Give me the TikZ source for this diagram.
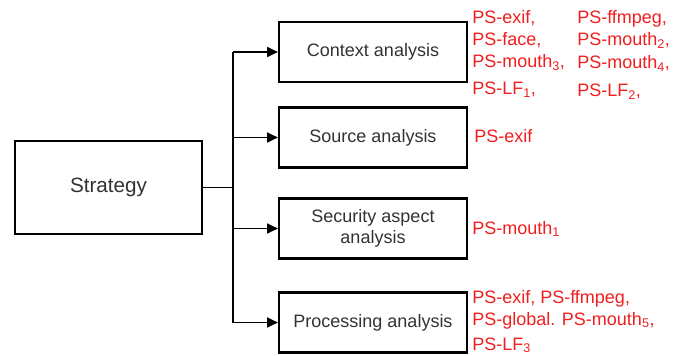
\documentclass[tikz,border=0pt]{standalone}
\usepackage{fontspec}
\setmainfont{Liberation Sans}
\usetikzlibrary{arrows.meta}
\definecolor{lbl}{RGB}{240,30,30}
\definecolor{txt}{RGB}{50,50,50}
\tikzset{
  box/.style={draw=black, line width=1.7pt, minimum width=141pt, minimum height=45pt, inner sep=2pt, align=center, text=txt, font=\fontsize{13.5}{15.5}\selectfont},
  bigbox/.style={box, minimum width=140pt, minimum height=70pt, font=\fontsize{15.5}{18}\selectfont},
  conn/.style={line width=1.1pt, draw=black},
  arr/.style={conn, -{Triangle[length=8pt,width=7.5pt]}},
  lbltext/.style={anchor=base west, inner sep=0pt, text=lbl, font=\fontsize{13.5}{15}\selectfont}
}
\begin{document}
\begin{tikzpicture}[x=0.75pt, y=-0.75pt]
\useasboundingbox (0,0) rectangle (685,356);
\node[bigbox] (strat) at (108.5,187.5) {Strategy};
\node[box] (ctx) at (373,52) {Context analysis};
\node[box] (src) at (373,137.5) {Source analysis};
\node[box] (sec) at (373,228.5) {Security aspect\\analysis};
\node[box] (proc) at (373,322.5) {Processing analysis};
\coordinate (j) at (233,187.5);
\coordinate (jt) at (233,52);
\coordinate (jb) at (233,322.5);
\coordinate (js) at (233,137.5);
\coordinate (jsec) at (233,228.5);
\draw[conn, line width=1.4pt] (strat.east) -- (j);
\draw[conn] (jt) -- (jb);
\draw[arr] (jt) -- (ctx.west);
\draw[arr] (js) -- (src.west);
\draw[arr] (jsec) -- (sec.west);
\draw[arr] (jb) -- (proc.west);
% labels
\node[lbltext] (c11) at (472,24) {PS-exif,};
\node[lbltext] (c12) at (577,24) {PS-ffmpeg,};
\node[lbltext] (c21) at (472,46) {PS-face,};
\node[lbltext] (c22) at (577,46) {PS-mouth\textsubscript{2},};
\node[lbltext] (c31) at (472,68) {PS-mouth\textsubscript{3},};
\node[lbltext] (c32) at (577,69) {PS-mouth\textsubscript{4},};
\node[lbltext] (c41) at (472,95) {PS-LF\textsubscript{1},};
\node[lbltext] (c42) at (577,97) {PS-LF\textsubscript{2},};
\node[lbltext] (s1) at (474,143) {PS-exif};
\node[lbltext] (m1) at (472,234) {PS-mouth\textsubscript{1}};
\node[lbltext] (p1) at (472,303) {PS-exif, PS-ffmpeg,};
\node[lbltext] (p2) at (472,325) {PS-global. PS-mouth\textsubscript{5},};
\node[lbltext] (p3) at (472,350) {PS-LF\textsubscript{3}};
\end{tikzpicture}
\end{document}
